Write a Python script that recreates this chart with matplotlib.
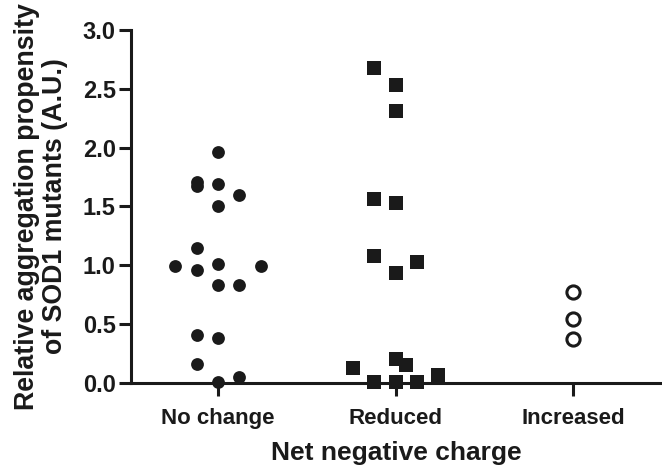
import matplotlib
matplotlib.use("Agg")
import matplotlib.pyplot as plt

categories = ["No change", "Reduced", "Increased"]

# No change group (filled circles)
nochange_y = [1.96, 1.71, 1.67, 1.69, 1.60, 1.50, 1.15, 0.99, 0.96, 1.01, 0.99,
              0.83, 0.83, 0.41, 0.38, 0.16, 0.01, 0.05]
nochange_dx = [0.0, -0.12, -0.12, 0.0, 0.12, 0.0, -0.12, -0.24, -0.12, 0.0, 0.24,
               0.0, 0.12, -0.12, 0.0, -0.12, 0.0, 0.12]

# Reduced group (filled squares)
reduced_y = [2.68, 2.53, 2.31, 1.56, 1.53, 1.08, 1.03, 0.93, 0.13, 0.20, 0.15,
             0.01, 0.01, 0.01, 0.07]
reduced_dx = [-0.12, 0.0, 0.0, -0.12, 0.0, -0.12, 0.12, 0.0, -0.24, 0.0, 0.06,
              -0.12, 0.0, 0.12, 0.24]

# Increased group (open circles)
increased_y = [0.77, 0.54, 0.37]
increased_dx = [0.0, 0.0, 0.0]

ink = "#1a1a1a"
plt.rcParams["font.family"] = "Liberation Sans"
plt.rcParams["font.weight"] = "bold"

fig = plt.figure(figsize=(6.62, 4.68), dpi=100)
ax = fig.add_axes([0.198, 0.182, 0.802, 0.754])

ax.scatter([0 + d for d in nochange_dx], nochange_y, s=85, marker="o",
           color=ink, clip_on=False, zorder=3, linewidths=0)
ax.scatter([1 + d for d in reduced_dx], reduced_y, s=110, marker="s",
           color=ink, clip_on=False, zorder=3, linewidths=0)
ax.scatter([2 + d for d in increased_dx], increased_y, s=90, marker="o",
           facecolors="white", edgecolors=ink, linewidths=2.2,
           clip_on=False, zorder=3)

ax.set_xlim(-0.49, 2.5)
ax.set_ylim(0, 3.0)
ax.set_xticks([0, 1, 2])
ax.set_xticklabels(categories)
ax.set_yticks([0, 0.5, 1.0, 1.5, 2.0, 2.5, 3.0])
ax.set_yticklabels(["0.0", "0.5", "1.0", "1.5", "2.0", "2.5", "3.0"])

for s in ["top", "right"]:
    ax.spines[s].set_visible(False)
for s in ["left", "bottom"]:
    ax.spines[s].set_linewidth(2.2)
    ax.spines[s].set_color(ink)

ax.tick_params(axis="both", direction="out", width=2.2, length=9, color=ink,
               labelcolor=ink)
ax.tick_params(axis="x", pad=9, labelsize=16)
ax.tick_params(axis="y", pad=2, labelsize=17)

ax.set_xlabel("Net negative charge", fontsize=19, fontweight="bold",
              color=ink, labelpad=9)
ax.set_ylabel("Relative aggregation propensity\nof SOD1 mutants (A.U.)",
              fontsize=19.3, fontweight="bold", color=ink, linespacing=1.1)
ax.yaxis.set_label_coords(-0.119, 0.5)

fig.savefig("out.png", dpi=100)
